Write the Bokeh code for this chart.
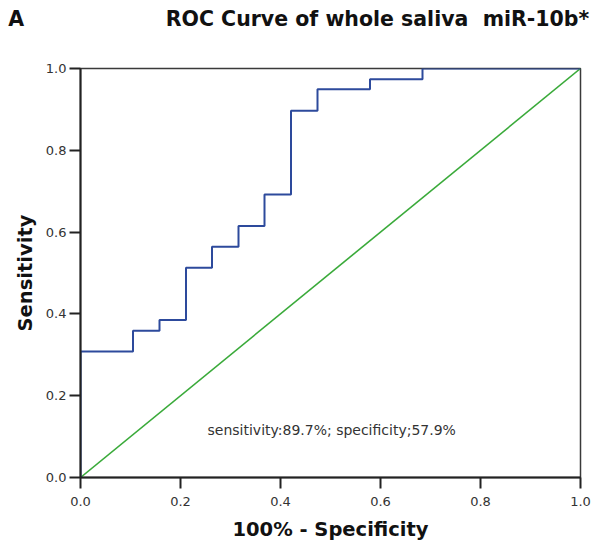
from bokeh.plotting import figure
from bokeh.models import Range1d, FixedTicker, Label, LinearAxis
from bokeh.embed import file_html
from bokeh.resources import INLINE

# ROC staircase for whole saliva miR-10b* (1 - specificity, sensitivity)
roc_fpr = [0.0, 0.0, 0.105, 0.105, 0.158, 0.158, 0.211, 0.211, 0.263, 0.263,
           0.316, 0.316, 0.368, 0.368, 0.421, 0.421, 0.474, 0.474, 0.579, 0.579,
           0.684, 0.684, 1.0]
roc_tpr = [0.0, 0.308, 0.308, 0.359, 0.359, 0.385, 0.385, 0.513, 0.513, 0.564,
           0.564, 0.615, 0.615, 0.692, 0.692, 0.897, 0.897, 0.949, 0.949, 0.974,
           0.974, 1.0, 1.0]
# reference (chance) line
ref_x = [0.0, 1.0]
ref_y = [0.0, 1.0]

tick_values = [0.0, 0.2, 0.4, 0.6, 0.8, 1.0]
tick_labels = ["0.0", "0.2", "0.4", "0.6", "0.8", "1.0"]

panel_letter = "A"
title_text = "ROC Curve of whole saliva \u00a0miR-10b*"
note_text = "sensitivity:89.7%; specificity;57.9%"

FONT = "DejaVu Sans"
INK = "#333333"
NBSP = "\u00a0"

p = figure(width=594, height=544, output_backend="svg", toolbar_location=None,
           title_location=None,
           x_range=Range1d(0, 1), y_range=Range1d(0, 1),
           min_border_left=80, min_border_right=14,
           min_border_top=68, min_border_bottom=67)

p.xgrid.visible = False
p.ygrid.visible = False
p.outline_line_color = "#3a3a3a"
p.outline_line_width = 1.5
p.background_fill_color = "white"
p.border_fill_color = "white"

p.line(ref_x, ref_y, line_color="#3aaa3a", line_width=1.6)
p.line(roc_fpr, roc_tpr, line_color="#2d4a9c", line_width=2)

x_axis = p.below[0]
y_axis = p.left[0]
for ax in (x_axis, y_axis):
    ax.ticker = FixedTicker(ticks=tick_values)
    ax.major_label_overrides = dict(zip(tick_values, tick_labels))
    ax.minor_tick_line_color = None
    ax.major_tick_in = 0
    ax.major_tick_out = 11
    ax.major_tick_line_width = 2
    ax.major_tick_line_color = "#222222"
    ax.axis_line_width = 2
    ax.axis_line_color = "#222222"
    ax.major_label_text_font = FONT
    ax.major_label_text_font_size = "13px"
    ax.major_label_text_color = INK
    ax.axis_label_text_font = FONT
    ax.axis_label_text_font_style = "bold"
    ax.axis_label_text_font_size = "19.5px"
    ax.axis_label_text_color = "#111111"

x_axis.axis_label = "100% - Specificity"
x_axis.major_label_standoff = 8
x_axis.axis_label_standoff = 9
y_axis.axis_label = "Sensitivity"
y_axis.major_label_standoff = 3
y_axis.axis_label_standoff = 6

# heading row on a bare top axis: panel letter anchored at the left edge,
# chart title anchored to the right of centre
head_ticks = [0.0, 0.594]
head_texts = [panel_letter + NBSP * 18, title_text]
head = LinearAxis(ticker=FixedTicker(ticks=head_ticks),
                  major_label_overrides=dict(zip(head_ticks, head_texts)),
                  axis_line_color=None,
                  major_tick_line_color=None, minor_tick_line_color=None,
                  major_tick_in=0, major_tick_out=0,
                  major_label_standoff=38,
                  major_label_text_font=FONT,
                  major_label_text_font_style="bold",
                  major_label_text_font_size="20.5px",
                  major_label_text_color="#111111")
p.add_layout(head, "above")

p.add_layout(Label(x=0.254, y=0.115, text=note_text, text_font=FONT,
                   text_font_size="14px", text_color=INK,
                   text_baseline="middle"))

open("out.html", "w").write(file_html(p, INLINE))
